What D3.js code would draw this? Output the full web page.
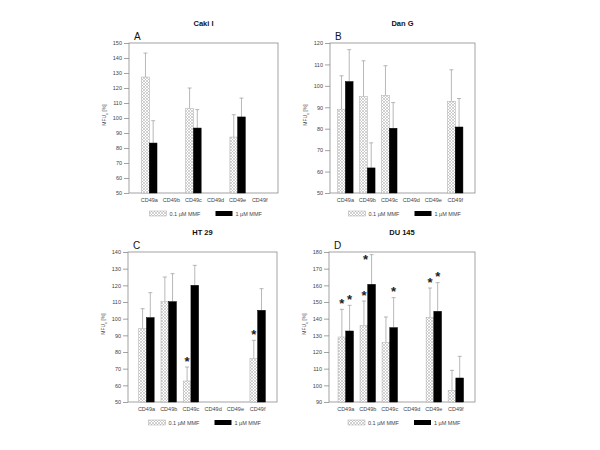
<!DOCTYPE html>
<html><head><meta charset="utf-8">
<script src="https://cdn.jsdelivr.net/npm/d3@7"></script>
<style>
html,body{margin:0;padding:0;background:#fff;}
svg{display:block;font-family:"Liberation Sans",Arial,sans-serif;}
</style></head>
<body><svg id="c" width="600" height="450"></svg>
<script>
const categories = ["CD49a","CD49b","CD49c","CD49d","CD49e","CD49f"];
const seriesNames = ["0.1 µM MMF","1 µM MMF"];
const panelTitles = ["Caki I","Dan G","HT 29","DU 145"];
const panelLetters = ["A","B","C","D"];
const yDomains = [[50,150],[50,120],[50,140],[90,180]];

// Caki I
const cakiLow    = [127.3, null, 106.2, null, 87.3, null];
const cakiLowSD  = [16.0,  null, 13.8,  null, 14.9, null];
const cakiHigh   = [83.3,  null, 93.3,  null, 100.7, null];
const cakiHighSD = [14.9,  null, 12.3,  null, 12.6, null];
// Dan G
const danLow     = [89.1, 95.0, 95.5, null, null, 92.8];
const danLowSD   = [15.6, 16.7, 13.9, null, null, 14.7];
const danHigh    = [102.0, 61.7, 80.2, null, null, 80.8];
const danHighSD  = [14.9, 11.7, 12.0, null, null, 13.3];
// HT 29
const htLow      = [94.0, 110.2, 62.6, null, null, 76.0];
const htLowSD    = [12.0, 14.8, 8.4, null, null, 11.0];
const htHigh     = [100.6, 110.2, 120.0, null, null, 105.0];
const htHighSD   = [15.0, 16.8, 12.0, null, null, 13.0];
// DU 145
const duLow      = [129.0, 135.8, 125.6, null, 140.6, 97.0];
const duLowSD    = [16.6, 14.8, 15.4, null, 17.8, 12.0];
const duHigh     = [132.6, 160.6, 134.6, null, 144.4, 104.4];
const duHighSD   = [15.4, 17.8, 18.0, null, 17.2, 13.0];
// significance markers
const sigLow  = [[0,0,0,0,0,0],[0,0,0,0,0,0],[0,0,1,0,0,1],[1,1,0,0,1,0]];
const sigHigh = [[0,0,0,0,0,0],[0,0,0,0,0,0],[0,0,0,0,0,0],[1,1,1,0,1,0]];

const panelLow = [cakiLow, danLow, htLow, duLow];
const panelLowSD = [cakiLowSD, danLowSD, htLowSD, duLowSD];
const panelHigh = [cakiHigh, danHigh, htHigh, duHigh];
const panelHighSD = [cakiHighSD, danHighSD, htHighSD, duHighSD];

// layout
const frames = [
  {x0:129, x1:278, y0:43, y1:193, pl:0.42, pr:0.33},
  {x0:330, x1:475, y0:43, y1:193, pl:0.2, pr:0.4},
  {x0:128, x1:277, y0:252, y1:402, pl:0.33, pr:0.37},
  {x0:329, x1:475, y0:252, y1:402, pl:0.26, pr:0.37}
];

const svg = d3.select("#c");
const defs = svg.append("defs");
const pat = defs.append("pattern").attr("id","hatch").attr("patternUnits","userSpaceOnUse")
  .attr("width",3).attr("height",3);
pat.append("rect").attr("width",3).attr("height",3).attr("fill","#fff");
pat.append("path").attr("d","M0,0L3,3M3,0L0,3").attr("stroke","#b4b4b4").attr("stroke-width",0.6);

const axisCol = "#8c8c8c";
const textCol = "#444";

frames.forEach((f,pi)=>{
  const g = svg.append("g");
  const n = categories.length;
  const step = (f.x1 - f.x0) / (n + f.pl + f.pr);
  const x = d3.scaleBand().domain(categories)
    .range([f.x0 + f.pl*step, f.x1 - f.pr*step]).paddingInner(0).paddingOuter(0);
  const y = d3.scaleLinear().domain(yDomains[pi]).range([f.y1,f.y0]);
  const bw = 7.7;

  // frame
  g.append("rect").attr("x",f.x0).attr("y",f.y0).attr("width",f.x1-f.x0).attr("height",f.y1-f.y0)
    .attr("fill","none").attr("stroke",axisCol).attr("stroke-width",0.8);

  // y axis
  const ya = g.append("g").attr("transform",`translate(${f.x0},0)`)
    .call(d3.axisLeft(y).tickValues(d3.range(yDomains[pi][0], yDomains[pi][1]+1, 10)).tickSize(5).tickPadding(2));
  ya.select(".domain").remove();
  ya.selectAll("line").attr("stroke",axisCol).attr("stroke-width",0.8);
  ya.selectAll("text").attr("font-size","5.5px").attr("fill",textCol).attr("font-family","Liberation Sans, Arial");

  // x axis labels
  const xa = g.append("g").attr("transform",`translate(0,${f.y1})`)
    .call(d3.axisBottom(x).tickSize(0).tickPadding(5));
  xa.select(".domain").remove();
  xa.selectAll("text").attr("font-size","5.5px").attr("fill",textCol).attr("font-family","Liberation Sans, Arial");

  const series = [
    {vals:panelLow[pi], sd:panelLowSD[pi], sig:sigLow[pi], off:-bw, fill:"url(#hatch)", stroke:"#aaa"},
    {vals:panelHigh[pi], sd:panelHighSD[pi], sig:sigHigh[pi], off:0, fill:"#000", stroke:"#000"}
  ];
  series.forEach(s=>{
    categories.forEach((c,i)=>{
      const v = s.vals[i];
      if (v==null) return;
      const cx = x(c) + x.bandwidth()/2;
      const bx = cx + s.off;
      const top = s.vals[i] + s.sd[i];
      const ex = bx + bw/2;
      // error bar
      g.append("line").attr("x1",ex).attr("x2",ex).attr("y1",y(v)).attr("y2",y(top))
        .attr("stroke","#999").attr("stroke-width",0.7);
      g.append("line").attr("x1",ex-2).attr("x2",ex+2).attr("y1",y(top)).attr("y2",y(top))
        .attr("stroke","#999").attr("stroke-width",0.7);
      // bar
      g.append("rect").attr("x",bx).attr("y",y(v)).attr("width",bw).attr("height",y(yDomains[pi][0])-y(v))
        .attr("fill",s.fill).attr("stroke",s.stroke).attr("stroke-width",0.5);
      if (s.sig[i]) {
        let sy = y(top) - 1.5, sx = ex;
        if (sy - 8 < f.y0) { sy = f.y0 + 12; sx = ex - 6; }
        g.append("text").attr("x",sx).attr("y",sy).attr("text-anchor","middle")
          .attr("font-size","13px").attr("font-weight","bold").attr("fill","#222").text("*");
      }
    });
  });

  // panel letter
  g.append("text").attr("x",f.x0+5).attr("y",f.y0-3).attr("font-size","10px").attr("fill","#111").text(panelLetters[pi]);
  // title
  const cxm = (f.x0+f.x1)/2;
  g.append("text").attr("x",cxm).attr("y",f.y0-17).attr("text-anchor","middle")
    .attr("font-size","7.5px").attr("font-weight","bold").attr("fill","#111").text(panelTitles[pi]);
  // y label
  const yl = g.append("text").attr("transform",`translate(${f.x0-23},${(f.y0+f.y1)/2 - 3}) rotate(-90)`)
    .attr("text-anchor","middle").attr("font-size","5px").attr("fill",textCol);
  yl.append("tspan").text("MFU");
  yl.append("tspan").attr("font-size","4px").attr("dy","1.5").text("c");
  yl.append("tspan").attr("dy","-1.5").text(" [%]");

  // legend
  const ly = f.y1 + 18;
  g.append("rect").attr("x",cxm-54).attr("y",ly).attr("width",17).attr("height",5)
    .attr("fill","url(#hatch)").attr("stroke","#aaa").attr("stroke-width",0.5);
  g.append("text").attr("x",cxm-34).attr("y",ly+5).attr("font-size","5.5px").attr("fill",textCol).text(seriesNames[0]);
  g.append("rect").attr("x",cxm+12).attr("y",ly).attr("width",17).attr("height",5).attr("fill","#000");
  g.append("text").attr("x",cxm+32).attr("y",ly+5).attr("font-size","5.5px").attr("fill",textCol).text(seriesNames[1]);
});
</script></body></html>
